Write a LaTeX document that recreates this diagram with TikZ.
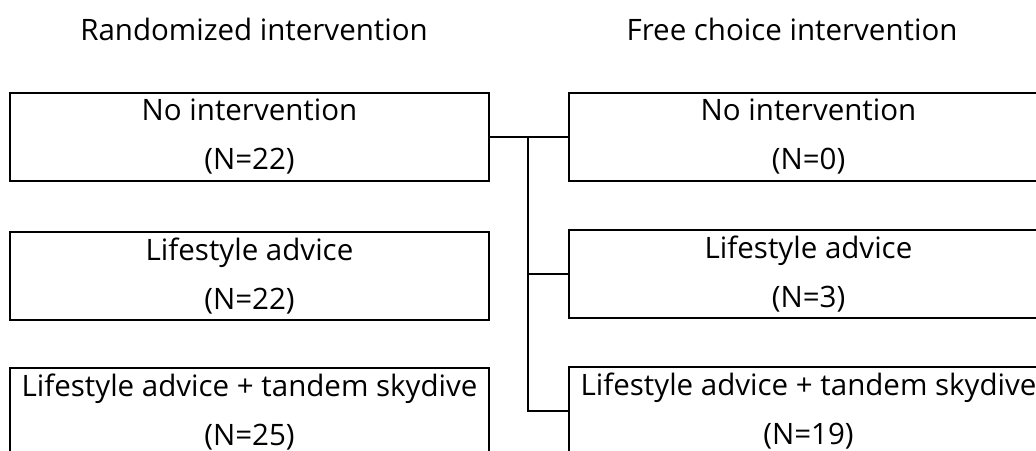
\documentclass[tikz,border=0pt]{standalone}
\usepackage{fontspec}
\setmainfont{Open Sans}
\begin{document}
\begin{tikzpicture}[x=1pt, y=-1pt,
  group/.style={font=\fontsize{29.5}{34}\selectfont},
  arm/.style={draw, line width=1.6pt, minimum width=479pt, minimum height=88pt,
    inner sep=0pt, align=center, font=\fontsize{29.5}{49}\selectfont},
  link/.style={line width=1.3pt}]

  \useasboundingbox (0,0) rectangle (1036,450);
  \clip (0,0) rectangle (1036,450);

  % Group titles
  \node[group, anchor=base] (trand) at (254,40) {Randomized intervention};
  \node[group, anchor=base] (tfree) at (792,40) {Free choice intervention};

  % Randomized arms
  \node[arm] (lnone) at (249.5,137) {No intervention\\(N=22)};
  \node[arm] (ladvice) at (249.5,276) {Lifestyle advice\\(N=22)};
  \node[arm] (lsky) at (249.5,412) {Lifestyle advice + tandem skydive\\(N=25)};

  % Free choice arms
  \node[arm] (rnone) at (808.5,137) {No intervention\\(N=0)};
  \node[arm] (radvice) at (808.5,274) {Lifestyle advice\\(N=3)};
  \node[arm] (rsky) at (808.5,411) {Lifestyle advice + tandem skydive\\(N=19)};

  % Connections
  \coordinate (split) at (528,137);
  \draw[link] (lnone.east) -- (rnone.west);
  \draw[link] (split) |- (radvice);
  \draw[link] (split) |- (rsky);

\end{tikzpicture}
\end{document}
